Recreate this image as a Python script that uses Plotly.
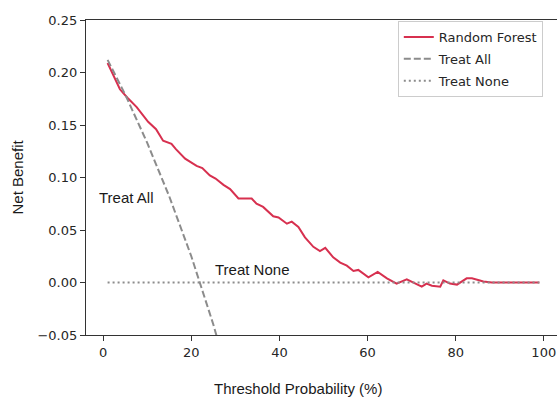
import plotly.graph_objects as go

# Data
rf_x = [1, 2, 3.8, 5.5, 7.6, 10.2, 12, 13.6, 15.5, 16.5, 18.6, 21.2, 22.5, 24.2, 25.5,
        27.3, 28.8, 30.7, 33.7, 34.8, 36.3, 38.6, 39.8, 41.7, 42.8, 44.3, 45.8, 47.7,
        49.2, 50.4, 52.2, 53.8, 55.3, 56.8, 57.9, 60.2, 62.3, 64.4, 66.6, 68.9, 70.4,
        72.3, 73.4, 74.6, 76.5, 77.2, 78.7, 80.3, 82.5, 83.7, 86.3, 88.2, 90, 95, 99]
rf_y = [0.209, 0.200, 0.184, 0.176, 0.167, 0.153, 0.146, 0.135, 0.132, 0.127, 0.118,
        0.111, 0.109, 0.102, 0.099, 0.093, 0.089, 0.080, 0.080, 0.075, 0.072, 0.063,
        0.062, 0.056, 0.058, 0.053, 0.043, 0.034, 0.030, 0.033, 0.024, 0.019, 0.016,
        0.011, 0.012, 0.005, 0.010, 0.004, -0.001, 0.003, 0.000, -0.004, -0.001,
        -0.003, -0.004, 0.002, -0.001, -0.002, 0.004, 0.004, 0.001, 0.000, 0.000,
        0.000, 0.000]

all_x = [1, 5, 10, 15, 20, 25, 30]
all_y = [0.212, 0.179, 0.133, 0.082, 0.025, -0.040, -0.114]

none_x = [1, 99]
none_y = [0.0, 0.0]

x_ticks = [0, 20, 40, 60, 80, 100]
y_ticks = [-0.05, 0.0, 0.05, 0.10, 0.15, 0.20, 0.25]

tick_font = dict(family="DejaVu Sans", size=13, color="#262626")
text_font = dict(family="Liberation Sans, Arial", size=15, color="#1a1a1a")

fig = go.Figure()
fig.add_trace(go.Scatter(x=rf_x, y=rf_y, mode="lines", name="Random Forest",
                         line=dict(color="#d7304f", width=2), legendgroup="a"))
fig.add_trace(go.Scatter(x=all_x, y=all_y, mode="lines", name="Treat All",
                         line=dict(color="#8c8c8c", width=2, dash="7px,3px"), legendgroup="b"))
fig.add_trace(go.Scatter(x=none_x, y=none_y, mode="lines", name="Treat None",
                         line=dict(color="#8c8c8c", width=2, dash="2px,3px"), legendgroup="c"))

fig.update_layout(
    width=558, height=399,
    margin=dict(l=86, r=1, t=20, b=64),
    plot_bgcolor="white", paper_bgcolor="white",
    showlegend=True,
    legend=dict(x=0.662, y=0.997, xanchor="left", yanchor="top",
                bgcolor="rgba(255,255,255,0.9)", bordercolor="#cccccc", borderwidth=1,
                font=dict(family="DejaVu Sans", size=13, color="#262626"),
                tracegroupgap=2, itemwidth=30),
    xaxis=dict(range=[-3.9, 103.0], tickvals=x_ticks, ticks="outside", ticklen=5,
               tickcolor="#333333", tickwidth=1.2, showgrid=False, zeroline=False,
               showline=True, linecolor="#333333", linewidth=1.3, mirror=True,
               tickfont=tick_font),
    yaxis=dict(range=[-0.05, 0.25], tickvals=y_ticks, tickformat=".2f", ticks="outside",
               ticklen=5, tickcolor="#333333", tickwidth=1.2, showgrid=False,
               zeroline=False, showline=True, linecolor="#333333", linewidth=1.3,
               tickfont=tick_font),
    annotations=[
        dict(text="Threshold Probability (%)", x=(298 - 86) / 471, y=(335 - 388) / 315,
             xref="paper", yref="paper", showarrow=False, font=text_font,
             xanchor="center", yanchor="middle"),
        dict(text="Net Benefit", x=-(86 - 17) / 471, y=0.5, xref="paper", yref="paper",
             showarrow=False, font=text_font, textangle=-90, xanchor="center",
             yanchor="middle"),
        dict(text="Treat All", x=-1.4, y=0.081, xref="x", yref="y", showarrow=False,
             font=text_font, xanchor="left", yanchor="middle"),
        dict(text="Treat None", x=24.9, y=0.0124, xref="x", yref="y", showarrow=False,
             font=text_font, xanchor="left", yanchor="middle"),
    ],
)

fig.write_html("out.html", config={"displayModeBar": False},
               post_script="document.body.style.margin='0';")
